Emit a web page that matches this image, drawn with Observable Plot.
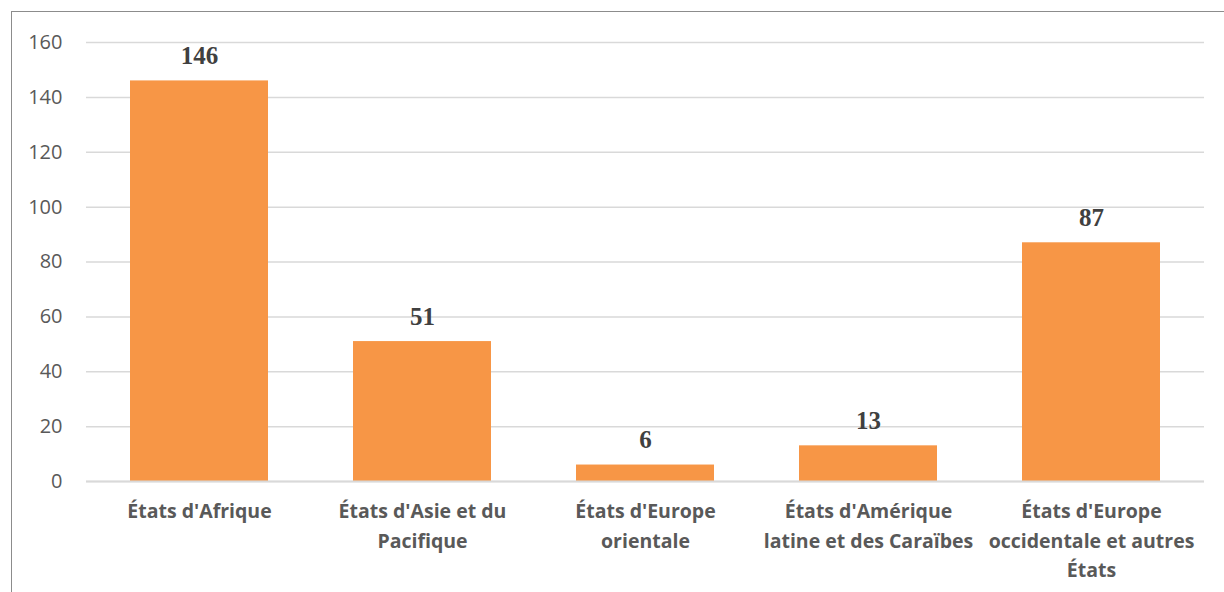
<!DOCTYPE html>
<html>
<head>
<meta charset="utf-8">
<script src="https://cdn.jsdelivr.net/npm/d3@7"></script>
<script src="https://cdn.jsdelivr.net/npm/@observablehq/plot@0.6"></script>
<style>
  html, body { margin: 0; padding: 0; background: #fff; width: 1224px; height: 592px; overflow: hidden; }
  #frame { position: absolute; left: 11px; top: 11px; width: 1240px; height: 620px; border: 1px solid #8c8c8c; }
  #chart { position: absolute; left: 0; top: 0; }
</style>
</head>
<body>
<div id="frame"></div>
<div id="chart"></div>
<script>
const categories = [
  "États d'Afrique",
  "États d'Asie et du Pacifique",
  "États d'Europe orientale",
  "États d'Amérique latine et des Caraïbes",
  "États d'Europe occidentale et autres États"
];
const tickLabels = [
  "États d'Afrique",
  "États d'Asie et du\nPacifique",
  "États d'Europe\norientale",
  "États d'Amérique\nlatine et des Caraïbes",
  "États d'Europe\noccidentale et autres\nÉtats"
];
const values = [146, 51, 6, 13, 87];
const yTicks = [0, 20, 40, 60, 80, 100, 120, 140, 160];

const data = categories.map((c, i) => ({category: c, value: values[i], label: tickLabels[i]}));
const labelOf = new Map(data.map(d => [d.category, d.label]));

const chart = Plot.plot({
  width: 1224,
  height: 592,
  marginLeft: 86,
  marginRight: 20,
  marginTop: 42,
  marginBottom: 111,
  style: {fontFamily: "'Open Sans', sans-serif", background: "transparent", overflow: "visible"},
  x: {domain: categories, paddingInner: 0.38, paddingOuter: 0.19, label: null},
  y: {domain: [0, 160], label: null},
  marks: [
    Plot.gridY(yTicks, {stroke: "#d9d9d9", strokeOpacity: 1, strokeWidth: 1.5}),
    Plot.axisY(yTicks, {tickSize: 0, tickPadding: 24, fontSize: 20, fill: "#595959", label: null}),
    Plot.axisX({tickSize: 0, tickPadding: 15, fontSize: 19.5, fontWeight: "bold", fill: "#595959",
      lineHeight: 1.53, tickFormat: d => labelOf.get(d), label: null}),
    Plot.barY(data, {x: "category", y: "value", fill: "#F79646"}),
    Plot.ruleY([0], {stroke: "#d9d9d9", strokeWidth: 2}),
    Plot.text(data, {x: "category", y: "value", text: d => String(d.value), dy: -25,
      fontFamily: "'Liberation Serif', serif", fontWeight: "bold", fontSize: 25, fill: "#404040"})
  ]
});
document.getElementById("chart").appendChild(chart);
</script>
</body>
</html>
